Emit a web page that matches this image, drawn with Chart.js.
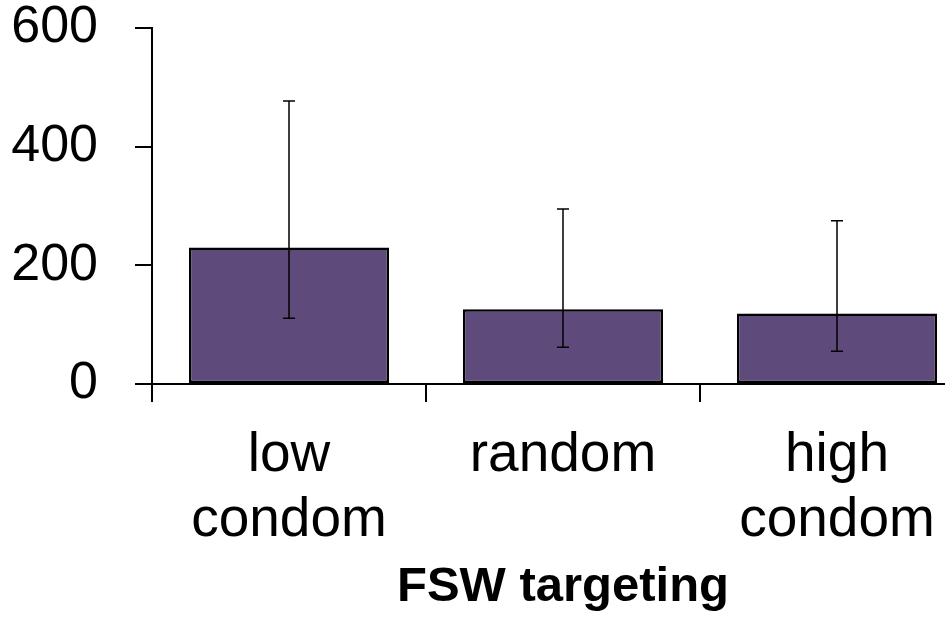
<!DOCTYPE html>
<html><head><meta charset="utf-8">
<script src="https://cdn.jsdelivr.net/npm/chart.js@4/dist/chart.umd.min.js"></script>
<style>html,body{margin:0;padding:0;overflow:hidden;background:#fff;width:945px;height:617px}canvas{display:block}</style>
</head><body>
<canvas id="c" width="980" height="617"></canvas>
<script>
const categories = [["low", "condom"], ["random"], ["high", "condom"]];
const values = [230, 126, 119];
const errLow = [111, 62, 55];
const errHigh = [477, 295, 275];
const yTicks = [0, 200, 400, 600];
const xTitle = "FSW targeting";

const errorBarPlugin = {
  id: 'errorBars',
  afterDatasetsDraw(chart) {
    const ctx = chart.ctx;
    const meta = chart.getDatasetMeta(0);
    const y = chart.scales.y;
    ctx.save();
    ctx.strokeStyle = '#000';
    ctx.lineWidth = 1.5;
    meta.data.forEach((bar, i) => {
      const x = bar.x;
      const yt = y.getPixelForValue(errHigh[i]);
      const yb = y.getPixelForValue(errLow[i]);
      ctx.beginPath();
      ctx.moveTo(x, yt); ctx.lineTo(x, yb);
      ctx.moveTo(x - 6, yt); ctx.lineTo(x + 6, yt);
      ctx.moveTo(x - 6, yb); ctx.lineTo(x + 6, yb);
      ctx.stroke();
    });
    ctx.restore();
  }
};

new Chart(document.getElementById('c'), {
  type: 'bar',
  data: {
    labels: categories,
    datasets: [{
      data: values,
      backgroundColor: '#5f4b7b',
      borderColor: '#000',
      borderWidth: 2.5,
      borderSkipped: false,
      barPercentage: 0.73,
      categoryPercentage: 1.0
    }]
  },
  options: {
    responsive: false,
    animation: false,
    layout: { padding: { top: 28, right: 6, left: 0, bottom: 0 } },
    plugins: { legend: { display: false }, tooltip: { enabled: false } },
    scales: {
      x: {
        offset: true,
        grid: { offset: true, drawOnChartArea: false, drawTicks: true, tickLength: 18, color: '#000', lineWidth: 2 },
        border: { display: true, color: '#000', width: 2 },
        ticks: { color: '#000', padding: 21, maxRotation: 0, autoSkip: false,
                 font: { family: 'Liberation Sans', size: 55, lineHeight: 1.18 } },
        title: { display: true, text: xTitle, color: '#000', padding: { top: 0, bottom: 0 },
                 font: { family: 'Liberation Sans', size: 49, weight: 'bold', lineHeight: 1.2 } },
        afterFit(scale) { scale.height = 233; scale.paddingLeft = 0; scale.paddingRight = 0; }
      },
      y: {
        min: 0, max: 600,
        afterBuildTicks(scale) { scale.ticks = yTicks.map(v => ({ value: v })); },
        grid: { drawOnChartArea: false, drawTicks: true, tickLength: 17, color: '#000', lineWidth: 2 },
        border: { display: true, color: '#000', width: 2 },
        ticks: { color: '#000', padding: 37, font: { family: 'Liberation Sans', size: 52 } },
        afterFit(scale) { scale.width = 152; scale.paddingTop = 0; scale.paddingBottom = 0; }
      }
    }
  },
  plugins: [errorBarPlugin]
});
</script>
</body></html>
